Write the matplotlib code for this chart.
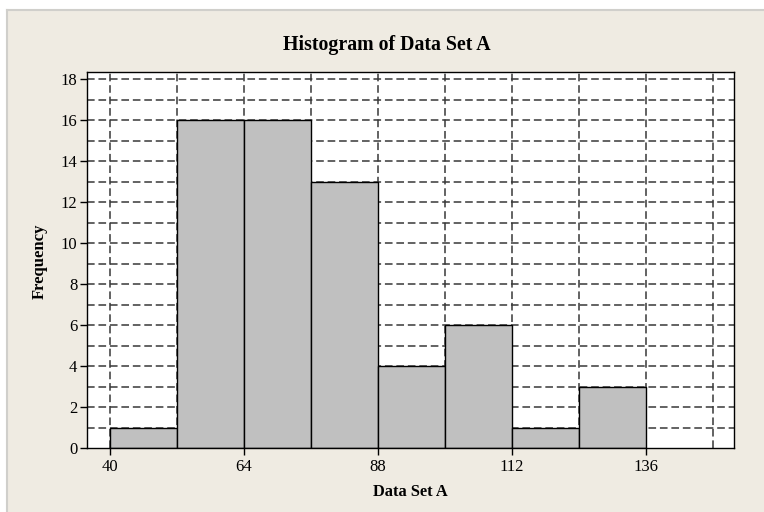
import matplotlib
matplotlib.use("Agg")
import matplotlib.pyplot as plt
from matplotlib.patches import Rectangle
from matplotlib.lines import Line2D
import numpy as np

bin_edges = [40, 52, 64, 76, 88, 100, 112, 124, 136]
counts = [1, 16, 16, 13, 4, 6, 1, 3]
x_ticks = [40, 64, 88, 112, 136]
y_ticks = [0, 2, 4, 6, 8, 10, 12, 14, 16, 18]
title = "Histogram of Data Set A"
xlabel = "Data Set A"
ylabel = "Frequency"

plt.rcParams['font.family'] = ['Liberation Serif', 'DejaVu Serif']

W, H = 764, 512
fig = plt.figure(figsize=(W/100, H/100), dpi=100, facecolor='white')

# beige panel with thin gray border on top/left
fig.patches.append(Rectangle((7/W, 0), 1, 1-10/H, transform=fig.transFigure,
                             facecolor='#EFEBE2', edgecolor='none', zorder=-10))
fig.lines.append(Line2D([6.5/W, 1], [1-9.5/H, 1-9.5/H], transform=fig.transFigure,
                        color='#D0CFCB', linewidth=1.5, zorder=-9))
fig.lines.append(Line2D([6.5/W, 6.5/W], [0, 1-9.5/H], transform=fig.transFigure,
                        color='#D0CFCB', linewidth=1.5, zorder=-9))

ax = fig.add_axes([87/W, 1-448/H, (734-87)/W, (448-72)/H])
ax.set_zorder(1)
ax.set_facecolor('white')

lefts = bin_edges[:-1]
widths = np.diff(bin_edges)
ax.bar(lefts, counts, width=widths, align='edge', color='#C0C0C0',
       edgecolor='black', linewidth=1.0, zorder=3)

ax.set_xlim(35.9, 151.8)
ax.set_ylim(0, 18.35)

# dashed grid
for gx in np.arange(40, 149, 12):
    ax.axvline(gx, color='#383838', linestyle=(0, (5, 2.5)), linewidth=1.1, zorder=1)
for gy in np.arange(1, 19, 1):
    ax.axhline(gy, color='#383838', linestyle=(0, (5, 2.5)), linewidth=1.1, zorder=1)

ax.set_xticks(x_ticks)
ax.set_yticks(y_ticks)
ax.tick_params(axis='both', direction='out', length=5, width=1.0, labelsize=12,
               colors='black')
ax.tick_params(axis='x', pad=3)
ax.tick_params(axis='y', pad=2)
for s in ax.spines.values():
    s.set_linewidth(1.0)
    s.set_color('black')
    s.set_zorder(5)

fig.text(387/W, 1-45/H, title, ha='center', va='center',
         fontsize=14.3, fontweight='bold')
fig.text(410/W, 1-492/H, xlabel, ha='center', va='center',
         fontsize=11.8, fontweight='bold')
fig.text(40/W, 1-261/H, ylabel, ha='center', va='center',
         fontsize=12, fontweight='bold', rotation=90)

fig.savefig('out.png', dpi=100, facecolor=fig.get_facecolor())
